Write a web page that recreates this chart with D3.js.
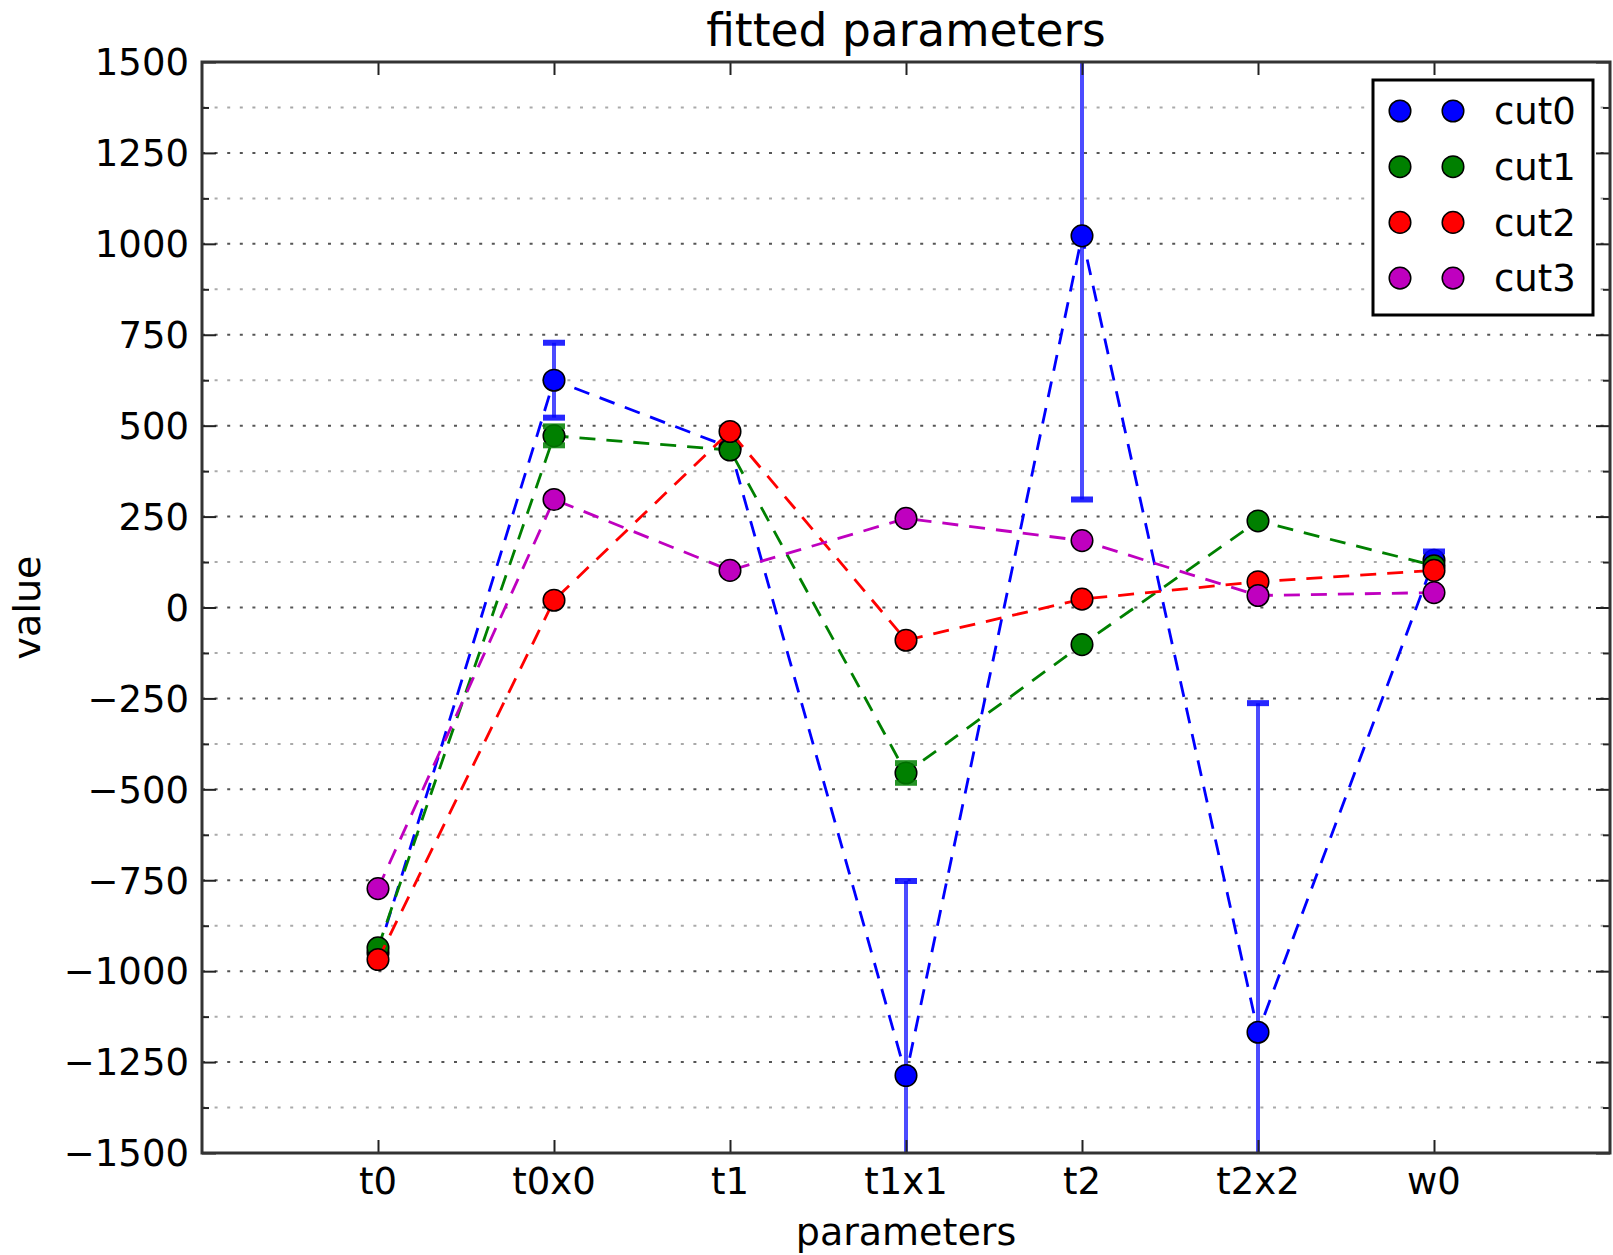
<!DOCTYPE html>
<html>
<head>
<meta charset="utf-8">
<script src="https://cdn.jsdelivr.net/npm/d3@7"></script>
<style>
  body { margin: 0; background: #fff; }
  svg { display: block; font-family: 'DejaVu Sans', sans-serif; }
</style>
</head>
<body>
<svg id="chart" width="1613" height="1255"></svg>
<script>
// categories along the x axis
const categories = ['t0', 't0x0', 't1', 't1x1', 't2', 't2x2', 'w0'];

// fitted values and errors for each cut
const cut0 = [-950, 625, 440, -1287, 1022, -1168, 130];
const cut0Err = [10, 103, 10, 535, 725, 905, 24];
const cut1 = [-936, 472, 433, -455, -102, 238, 115];
const cut1Err = [8, 26, 8, 27, 8, 8, 8];
const cut2 = [-968, 20, 484, -90, 23, 71, 102];
const cut2Err = [5, 5, 5, 5, 5, 5, 5];
const cut3 = [-773, 297, 102, 245, 184, 33, 41];
const cut3Err = [5, 5, 5, 5, 5, 5, 5];

const seriesNames = ['cut0', 'cut1', 'cut2', 'cut3'];
const seriesColors = ['#0000ff', '#008000', '#ff0000', '#bf00bf'];

const yTicks = [-1500, -1250, -1000, -750, -500, -250, 0, 250, 500, 750, 1000, 1250, 1500];
const yMinor = d3.range(-1375, 1500, 250);

const series = [
  { name: seriesNames[0], values: cut0, err: cut0Err, color: seriesColors[0] },
  { name: seriesNames[1], values: cut1, err: cut1Err, color: seriesColors[1] },
  { name: seriesNames[2], values: cut2, err: cut2Err, color: seriesColors[2] },
  { name: seriesNames[3], values: cut3, err: cut3Err, color: seriesColors[3] },
];

const margin = { left: 202, right: 3, top: 62, bottom: 102 };
const W = 1613, H = 1255;
const svg = d3.select('#chart');
svg.append('rect').attr('width', W).attr('height', H).attr('fill', '#fff');

const x = d3.scaleLinear().domain([-1, 7]).range([margin.left, W - margin.right]);
const y = d3.scaleLinear().domain([-1500, 1500]).range([H - margin.bottom, margin.top]);

svg.append('clipPath').attr('id', 'plotClip')
  .append('rect')
  .attr('x', x(-1)).attr('y', y(1500))
  .attr('width', x(7) - x(-1)).attr('height', y(-1500) - y(1500));

// grid lines
const grid = svg.append('g');
grid.selectAll('line.minor')
  .data(yMinor)
  .join('line')
  .attr('class', 'minor')
  .attr('x1', x(-1)).attr('x2', x(7))
  .attr('y1', d => y(d)).attr('y2', d => y(d))
  .attr('stroke', '#aaa').attr('stroke-width', 2)
  .attr('stroke-dasharray', '3,9.6');
grid.selectAll('line.major')
  .data(yTicks.slice(1, -1))
  .join('line')
  .attr('class', 'major')
  .attr('x1', x(-1)).attr('x2', x(7))
  .attr('y1', d => y(d)).attr('y2', d => y(d))
  .attr('stroke', '#555').attr('stroke-width', 2)
  .attr('stroke-dasharray', '3,9.6');

// data
const plot = svg.append('g').attr('clip-path', 'url(#plotClip)');
const line = d3.line().x((d, i) => x(i)).y(d => y(d));

series.forEach(s => {
  const g = plot.append('g');
  g.selectAll('line.err')
    .data(s.values)
    .join('line')
    .attr('class', 'err')
    .attr('x1', (d, i) => x(i)).attr('x2', (d, i) => x(i))
    .attr('y1', (d, i) => y(d - s.err[i])).attr('y2', (d, i) => y(d + s.err[i]))
    .attr('stroke', s.color).attr('stroke-width', 4).attr('stroke-opacity', 0.7);
  g.append('path')
    .attr('d', line(s.values))
    .attr('fill', 'none')
    .attr('stroke', s.color).attr('stroke-width', 2.8)
    .attr('stroke-dasharray', '16,11');
  g.selectAll('circle')
    .data(s.values)
    .join('circle')
    .attr('cx', (d, i) => x(i)).attr('cy', d => y(d))
    .attr('r', 10.8)
    .attr('fill', s.color)
    .attr('stroke', '#000').attr('stroke-width', 1.5);
  // caps sit on top of the markers
  const caps = [];
  s.values.forEach((v, i) => {
    if (s.err[i] > 20) {
      caps.push({ i, v: v - s.err[i] });
      caps.push({ i, v: v + s.err[i] });
    }
  });
  g.selectAll('line.cap')
    .data(caps)
    .join('line')
    .attr('class', 'cap')
    .attr('x1', d => x(d.i) - 11).attr('x2', d => x(d.i) + 11)
    .attr('y1', d => y(d.v)).attr('y2', d => y(d.v))
    .attr('stroke', s.color).attr('stroke-width', 6).attr('stroke-opacity', 0.85);
});

// axes frame and ticks
const axes = svg.append('g');
axes.append('g').attr('transform', `translate(${x(-1)},0)`)
  .call(d3.axisRight(y).tickValues(yTicks).tickSize(14).tickFormat(''));
axes.append('g').attr('transform', `translate(${x(7)},0)`)
  .call(d3.axisLeft(y).tickValues(yTicks).tickSize(14).tickFormat(''));
axes.append('g').attr('transform', `translate(${x(-1)},0)`)
  .call(d3.axisRight(y).tickValues(yMinor).tickSize(7).tickFormat(''));
axes.append('g').attr('transform', `translate(${x(7)},0)`)
  .call(d3.axisLeft(y).tickValues(yMinor).tickSize(7).tickFormat(''));
axes.append('g').attr('transform', `translate(0,${y(-1500)})`)
  .call(d3.axisTop(x).tickValues(d3.range(categories.length)).tickSize(13).tickFormat(''));
axes.append('g').attr('transform', `translate(0,${y(1500)})`)
  .call(d3.axisBottom(x).tickValues(d3.range(categories.length)).tickSize(13).tickFormat(''));
axes.selectAll('.domain').remove();
axes.selectAll('.tick line').attr('stroke', '#222').attr('stroke-width', 2);

axes.append('rect')
  .attr('x', x(-1)).attr('y', y(1500))
  .attr('width', x(7) - x(-1)).attr('height', y(-1500) - y(1500))
  .attr('fill', 'none').attr('stroke', '#333').attr('stroke-width', 3);

// tick labels
const fmt = d => (d < 0 ? '\u2212' + Math.abs(d) : String(d));
svg.append('g').selectAll('text')
  .data(yTicks)
  .join('text')
  .attr('x', 189).attr('y', d => y(d))
  .attr('dy', '0.36em')
  .attr('text-anchor', 'end')
  .attr('font-size', 37)
  .text(fmt);

svg.append('g').selectAll('text')
  .data(categories)
  .join('text')
  .attr('x', (d, i) => x(i)).attr('y', 1194)
  .attr('text-anchor', 'middle')
  .attr('font-size', 37)
  .text(d => d);

// labels and title
svg.append('text')
  .attr('x', (x(-1) + x(7)) / 2).attr('y', 1245)
  .attr('text-anchor', 'middle').attr('font-size', 38)
  .text('parameters');
svg.append('text')
  .attr('transform', `translate(40,${(y(1500) + y(-1500)) / 2}) rotate(-90)`)
  .attr('text-anchor', 'middle').attr('font-size', 38)
  .text('value');
svg.append('text')
  .attr('x', (x(-1) + x(7)) / 2).attr('y', 46)
  .attr('text-anchor', 'middle').attr('font-size', 45.5)
  .text('fitted parameters');

// legend
const legend = svg.append('g');
legend.append('rect')
  .attr('x', 1373).attr('y', 80).attr('width', 220).attr('height', 235)
  .attr('fill', '#fff').attr('stroke', '#000').attr('stroke-width', 3);
const rows = legend.selectAll('g.entry')
  .data(series)
  .join('g')
  .attr('class', 'entry')
  .attr('transform', (d, i) => `translate(0,${111 + i * 55.7})`);
rows.selectAll('circle')
  .data(d => [d, d])
  .join('circle')
  .attr('cx', (d, i) => (i === 0 ? 1400 : 1453)).attr('cy', 0)
  .attr('r', 10.8)
  .attr('fill', d => d.color)
  .attr('stroke', '#000').attr('stroke-width', 1.5);
rows.append('text')
  .attr('x', 1494).attr('y', 0).attr('dy', '0.36em')
  .attr('font-size', 37)
  .text(d => d.name);
</script>
</body>
</html>
